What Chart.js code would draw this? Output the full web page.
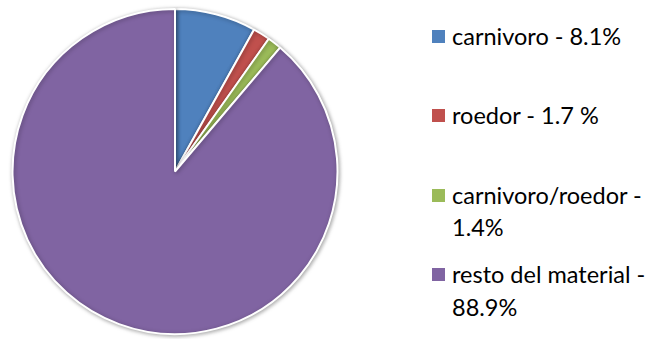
<!DOCTYPE html>
<html>
<head>
<meta charset="utf-8">
<script src="https://cdn.jsdelivr.net/npm/chart.js@4/dist/chart.umd.min.js"></script>
<style>
  html, body { margin: 0; padding: 0; background: #fff; }
  #wrap { position: relative; width: 658px; height: 339px; overflow: hidden; }
  #pieBox { position: absolute; left: 0; top: 0; width: 350px; height: 339px; }
  #legend { position: absolute; left: 430px; top: 0; width: 228px; font-family: Lato, "Open Sans", sans-serif; font-size: 23.5px; color: #000; }
  .item { position: absolute; left: 0; width: 228px; line-height: 32.5px; }
  .swatch { position: absolute; left: 2px; top: 10px; width: 13px; height: 13px; }
  .txt { position: absolute; left: 22px; top: 0; width: 206px; white-space: normal; }
</style>
</head>
<body>
<div id="wrap">
  <div id="pieBox"><canvas id="pie"></canvas></div>
  <div id="legend"></div>
</div>
<script>
// Share of remains by category (%)
const categories = ["carnivoro - 8.1%", "roedor - 1.7 %", "carnivoro/roedor - 1.4%", "resto del material - 88.9%"];
const shares = [8.1, 1.7, 1.4, 88.9];
const sliceColors = ["#4F81BD", "#C0504D", "#9BBB59", "#8064A2"];

// Soft drop shadow behind the pie
const pieShadow = {
  id: 'pieShadow',
  beforeDatasetsDraw(chart) {
    const ctx = chart.ctx;
    ctx.save();
    ctx.shadowColor = 'rgba(0,0,0,0.35)';
    ctx.shadowBlur = 4;
    ctx.shadowOffsetX = 1;
    ctx.shadowOffsetY = 1;
  },
  afterDatasetsDraw(chart) {
    chart.ctx.restore();
  }
};

const chart = new Chart(document.getElementById('pie'), {
  type: 'pie',
  data: {
    labels: categories,
    datasets: [{
      data: shares,
      backgroundColor: sliceColors,
      borderColor: '#ffffff',
      borderWidth: 2
    }]
  },
  options: {
    responsive: true,
    maintainAspectRatio: false,
    animation: false,
    layout: { padding: { top: 8, bottom: 4, left: 0, right: 0 } },
    plugins: {
      legend: { display: false },
      tooltip: { enabled: false }
    }
  },
  plugins: [pieShadow]
});

// Legend on the right, built from the same categories and colours
const legend = document.getElementById('legend');
categories.forEach((label, i) => {
  const item = document.createElement('div');
  item.className = 'item';
  item.style.top = (19.5 + i * 79.5) + 'px';
  const sw = document.createElement('span');
  sw.className = 'swatch';
  sw.style.background = sliceColors[i];
  const tx = document.createElement('span');
  tx.className = 'txt';
  tx.textContent = label;
  item.appendChild(sw);
  item.appendChild(tx);
  legend.appendChild(item);
});
</script>
</body>
</html>
